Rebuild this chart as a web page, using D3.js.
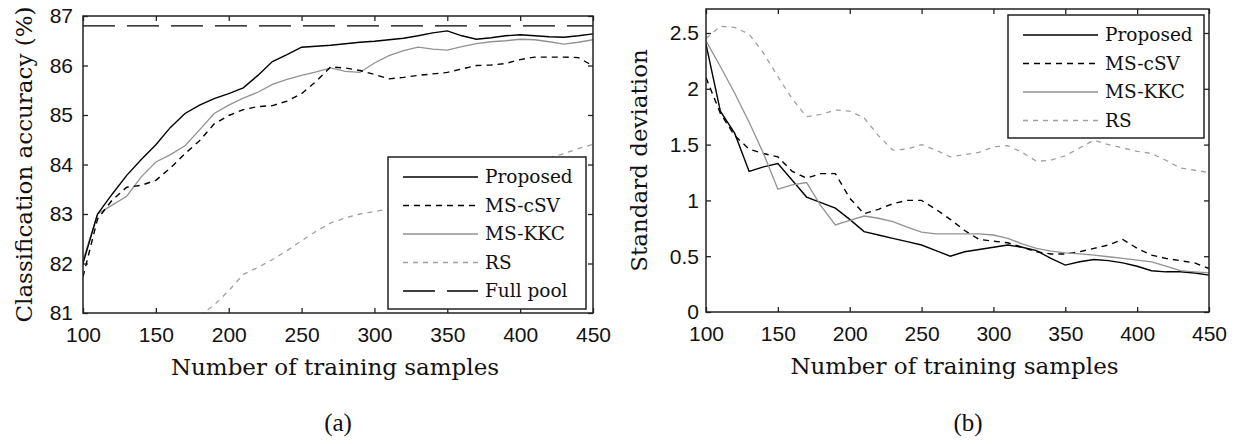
<!DOCTYPE html>
<html>
<head>
<meta charset="utf-8">
<script src="https://cdn.jsdelivr.net/npm/d3@7"></script>
<style>
  body { margin: 0; background: #fff; }
  svg { display: block; }
</style>
</head>
<body>
<div id="chart"></div>
<script>
// training set sizes
var samples = [100,110,120,130,140,150,160,170,180,190,200,210,220,230,240,250,260,270,
               280,290,300,310,320,330,340,350,360,370,380,390,400,410,420,430,440,450];

// (a) classification accuracy (%)
var accProposed = [82.0,83.0,83.4,83.78,84.1,84.4,84.75,85.03,85.2,85.33,85.43,85.55,85.8,86.08,86.22,86.37,86.39,86.41,
                   86.44,86.47,86.49,86.52,86.55,86.6,86.66,86.7,86.6,86.53,86.56,86.6,86.62,86.6,86.58,86.57,86.6,86.64];
var accCSV = [81.73,82.9,83.28,83.54,83.58,83.68,83.93,84.22,84.48,84.82,84.99,85.11,85.17,85.19,85.28,85.43,85.68,85.97,
              85.95,85.9,85.82,85.73,85.76,85.8,85.83,85.86,85.93,86.0,86.01,86.04,86.12,86.17,86.17,86.17,86.16,85.99];
var accKKC = [82.06,83.0,83.18,83.36,83.75,84.05,84.2,84.38,84.7,85.03,85.2,85.34,85.46,85.62,85.72,85.8,85.87,85.95,
              85.88,85.86,86.05,86.2,86.3,86.37,86.33,86.31,86.38,86.44,86.48,86.5,86.53,86.52,86.48,86.43,86.47,86.52];
// RS is below the axis before 180
var rsSamples = [180,190,200,210,220,230,240,250,260,270,280,290,300,310,320,330,340,350,360,370,380,390,400,410,420,430,440,450];
var accRS = [80.95,81.16,81.45,81.78,81.92,82.08,82.26,82.46,82.65,82.82,82.92,83.0,83.05,83.1,83.18,83.3,83.4,83.5,
             83.6,83.7,83.8,83.9,84.0,84.05,84.13,84.22,84.32,84.41];
var fullPool = 86.8;

// (b) standard deviation
var sdProposed = [2.4,1.8,1.6,1.26,1.3,1.33,1.18,1.03,0.98,0.93,0.83,0.72,0.69,0.66,0.63,0.6,0.55,0.5,
                  0.54,0.56,0.58,0.6,0.58,0.55,0.48,0.42,0.45,0.47,0.46,0.44,0.41,0.37,0.36,0.36,0.35,0.33];
var sdCSV = [2.1,1.78,1.58,1.46,1.42,1.39,1.26,1.2,1.24,1.24,1.02,0.88,0.92,0.97,1.0,1.0,0.92,0.83,
             0.73,0.65,0.635,0.62,0.58,0.54,0.52,0.52,0.54,0.57,0.6,0.65,0.57,0.51,0.48,0.46,0.44,0.39];
var sdKKC = [2.43,2.2,1.96,1.7,1.42,1.1,1.14,1.16,0.95,0.78,0.82,0.86,0.84,0.81,0.76,0.715,0.7,0.7,
             0.7,0.7,0.69,0.66,0.61,0.57,0.545,0.53,0.52,0.51,0.495,0.48,0.465,0.45,0.41,0.37,0.36,0.35];
var sdRS = [2.45,2.56,2.55,2.49,2.32,2.11,1.91,1.75,1.77,1.81,1.8,1.74,1.58,1.45,1.46,1.5,1.45,1.39,
            1.41,1.43,1.48,1.49,1.43,1.35,1.36,1.4,1.47,1.54,1.5,1.47,1.44,1.42,1.36,1.29,1.27,1.25];

var xTicks = [100,150,200,250,300,350,400,450];
var accTicks = [81,82,83,84,85,86,87];
var sdTicks = [0,0.5,1,1.5,2,2.5];

var serif = "'DejaVu Serif', serif";
var sans = "'Liberation Sans', Arial, sans-serif";

var styles = {
  "Proposed":  {stroke: "#000", width: 1.4, dash: null},
  "MS-cSV":    {stroke: "#000", width: 1.4, dash: "6,5"},
  "MS-KKC":    {stroke: "#929292", width: 1.3, dash: null},
  "RS":        {stroke: "#a0a0a0", width: 1.3, dash: "5,5"},
  "Full pool": {stroke: "#000", width: 1.4, dash: "32,12"}
};

var svg = d3.select("#chart").append("svg")
    .attr("width", 1239)
    .attr("height", 444);

function panel(o) {
  var g = svg.append("g");
  var x = d3.scaleLinear().domain([100, 450]).range([o.left, o.right]);
  var y = d3.scaleLinear().domain(o.yDomain).range([o.bottom, o.top]);

  var clipId = "clip" + o.id;
  svg.append("clipPath").attr("id", clipId)
    .append("rect")
      .attr("x", o.left).attr("y", o.top)
      .attr("width", o.right - o.left).attr("height", o.bottom - o.top);

  var lines = g.append("g").attr("clip-path", "url(#" + clipId + ")");
  var line = d3.line()
      .x(function(d) { return x(d[0]) })
      .y(function(d) { return y(d[1]) });

  o.series.forEach(function(s) {
    var st = styles[s.name];
    var pts = s.xs.map(function(v, i) { return [v, s.values[i]] });
    lines.append("path")
      .attr("d", line(pts))
      .attr("fill", "none")
      .attr("stroke", st.stroke)
      .attr("stroke-width", st.width)
      .attr("stroke-dasharray", st.dash);
  });

  // axes, ticks pointing inwards on all four sides
  var bottom = g.append("g").attr("transform", "translate(0," + o.bottom + ")")
      .call(d3.axisBottom(x).tickValues(xTicks).tickSize(-5).tickFormat(d3.format("d")));
  bottom.selectAll("text").attr("y", 29).attr("dy", null);
  var left = g.append("g").attr("transform", "translate(" + o.left + ",0)")
      .call(d3.axisLeft(y).tickValues(o.yTicks).tickSize(-5).tickFormat(o.yFormat));
  left.selectAll("text").attr("x", -o.labelGap).attr("dy", "0.33em");
  g.append("g").attr("transform", "translate(0," + o.top + ")")
      .call(d3.axisTop(x).tickValues(xTicks).tickSize(-5).tickFormat(""));
  g.append("g").attr("transform", "translate(" + o.right + ",0)")
      .call(d3.axisRight(y).tickValues(o.yTicks).tickSize(-5).tickFormat(""));

  g.selectAll(".domain").remove();
  g.selectAll(".tick line").attr("stroke", "#222").attr("stroke-width", 1.3);
  g.selectAll(".tick text").attr("font-family", sans).attr("font-size", 21).attr("fill", "#111");

  g.append("rect")
    .attr("x", o.left).attr("y", o.top)
    .attr("width", o.right - o.left).attr("height", o.bottom - o.top)
    .attr("fill", "none").attr("stroke", "#222").attr("stroke-width", 1.5);

  // axis titles
  g.append("text")
    .attr("x", (o.left + o.right) / 2 - 3).attr("y", o.bottom + 62)
    .attr("text-anchor", "middle")
    .attr("font-family", serif).attr("font-size", 23).attr("fill", "#111")
    .text("Number of training samples");
  g.append("text")
    .attr("transform", "translate(" + o.yTitleX + "," + ((o.top + o.bottom) / 2) + ") rotate(-90)")
    .attr("text-anchor", "middle")
    .attr("font-family", serif).attr("font-size", 23).attr("fill", "#111")
    .text(o.yTitle);

  // legend
  var lg = g.append("g");
  var rowH = 28.5;
  var L = o.legend;
  lg.append("rect")
    .attr("x", L.x).attr("y", L.y)
    .attr("width", L.w).attr("height", L.h)
    .attr("fill", "#fff").attr("stroke", "#222").attr("stroke-width", 1.5);
  L.names.forEach(function(n, i) {
    var st = styles[n];
    var cy = L.y + 20 + i * rowH;
    lg.append("line")
      .attr("x1", L.x + 15).attr("x2", L.x + 90)
      .attr("y1", cy).attr("y2", cy)
      .attr("stroke", st.stroke).attr("stroke-width", st.width)
      .attr("stroke-dasharray", st.dash);
    lg.append("text")
      .attr("x", L.x + 97).attr("y", cy).attr("dy", "0.35em")
      .attr("font-family", serif).attr("font-size", 18.5).attr("fill", "#111")
      .text(n);
  });

  svg.append("text")
    .attr("x", o.captionX).attr("y", 431)
    .attr("text-anchor", "middle")
    .attr("font-family", "'Liberation Serif', serif").attr("font-size", 25).attr("fill", "#111")
    .text(o.caption);
}

panel({
  id: "a", left: 83, right: 593, top: 16, bottom: 313,
  yDomain: [81, 87], yTicks: accTicks, yFormat: d3.format("d"), labelGap: 10,
  yTitle: "Classification accuracy (%)", yTitleX: 32,
  series: [
    {name: "Full pool", xs: [100, 450], values: [fullPool, fullPool]},
    {name: "RS", xs: rsSamples, values: accRS},
    {name: "MS-KKC", xs: samples, values: accKKC},
    {name: "MS-cSV", xs: samples, values: accCSV},
    {name: "Proposed", xs: samples, values: accProposed}
  ],
  legend: {x: 388, y: 157, w: 198, h: 152, names: ["Proposed", "MS-cSV", "MS-KKC", "RS", "Full pool"]},
  caption: "(a)", captionX: 338
});

panel({
  id: "b", left: 706, right: 1209, top: 9, bottom: 312,
  yDomain: [0, 2.715], yTicks: sdTicks, yFormat: d3.format("~g"), labelGap: 7,
  yTitle: "Standard deviation", yTitleX: 647,
  series: [
    {name: "RS", xs: samples, values: sdRS},
    {name: "MS-cSV", xs: samples, values: sdCSV},
    {name: "Proposed", xs: samples, values: sdProposed},
    {name: "MS-KKC", xs: samples, values: sdKKC}
  ],
  legend: {x: 1008, y: 15, w: 196, h: 123, names: ["Proposed", "MS-cSV", "MS-KKC", "RS"]},
  caption: "(b)", captionX: 968
});
</script>
</body>
</html>
